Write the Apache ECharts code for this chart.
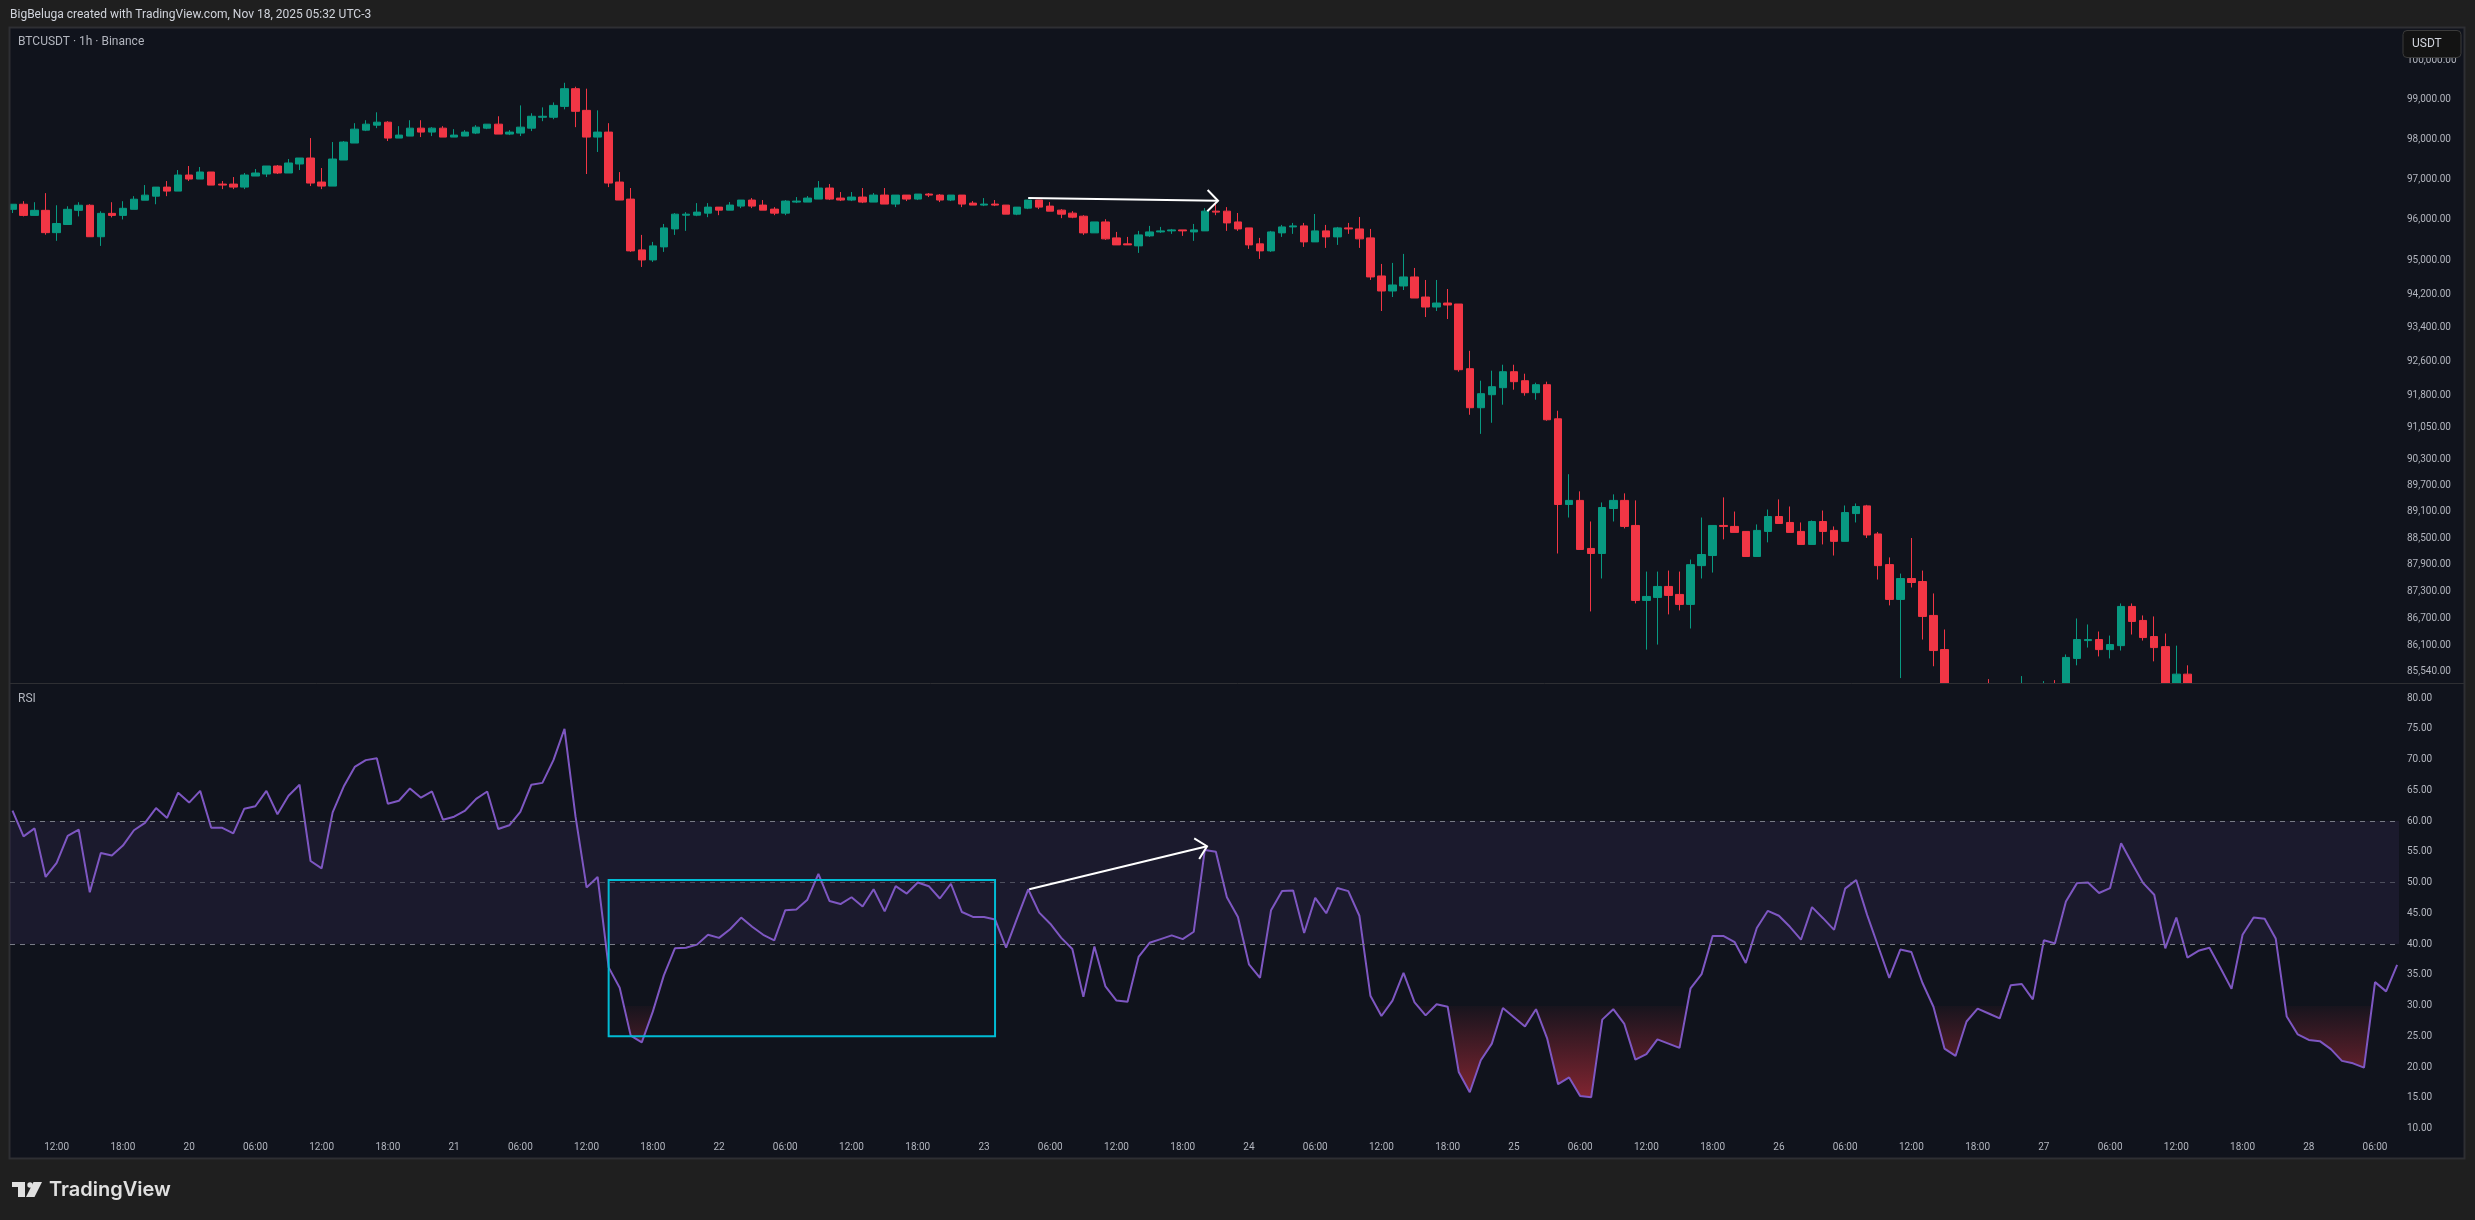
<!DOCTYPE html>
<html>
<head>
<meta charset="utf-8">
<title>BTCUSDT RSI</title>
<script src="https://cdn.jsdelivr.net/npm/echarts@6/dist/echarts.min.js"></script>
<style>
  html, body { margin: 0; padding: 0; background: #1f1f1f; }
  #chart { width: 2475px; height: 1220px; }
</style>
</head>
<body>
<div id="chart"></div>
<script>
// candles, hourly, index 0 = Nov 19 08:00. bars from 198 on are below the price pane
var opens = [
  96261,96386,96112,96236,95689,95888,96236,96361,95589,96162,
  96112,96261,96485,96585,96809,96710,97108,97008,97183,96884,
  96884,96809,97083,97133,97332,97158,97382,97531,96934,96834,
  97481,97905,98228,98353,98428,98029,98079,98278,98179,98278,
  98054,98079,98154,98278,98378,98129,98154,98278,98552,98552,
  98826,99274,98726,98054,98179,96934,96513,95268,95024,95341,
  95780,96117,96117,96167,96315,96241,96340,96489,96365,96266,
  96167,96439,96439,96513,96786,96538,96489,96563,96439,96612,
  96390,96612,96513,96637,96612,96489,96612,96414,96365,96390,
  96365,96142,96290,96489,96340,96241,96167,96092,95683,95951,
  95561,95415,95366,95610,95707,95732,95756,95707,95732,96216,
  96216,95951,95805,95415,95244,95683,95829,95854,95463,95732,
  95585,95805,95780,95561,94636,94273,94394,94612,94128,93888,
  93984,93960,92420,91503,91808,91973,92349,92137,91855,92043,
  91245,89269,89362,88272,88158,89177,89362,88792,87108,87174,
  87419,87241,87019,87885,88112,88792,88770,88657,88090,88657,
  88995,88860,88657,88363,88882,88680,88432,89062,89237,88599,
  87908,87130,87596,87529,86774,86021,85120,84700,84550,84800,
  84600,84700,84500,84900,84850,85000,84900,85826,86218,86241,
  86020,86107,86974,86663,86307,86085,85100,85482
];
var closes = [
  96386,96112,96236,95689,95913,96261,96361,95589,96162,96112,
  96286,96510,96610,96809,96710,97108,97008,97183,96859,96859,
  96809,97108,97158,97332,97158,97407,97531,96909,96834,97506,
  97930,98253,98378,98428,98029,98104,98278,98179,98278,98054,
  98104,98179,98303,98378,98129,98179,98303,98577,98577,98851,
  99274,98702,98054,98179,96909,96489,95244,95024,95366,95805,
  96142,96142,96192,96315,96241,96365,96489,96340,96241,96167,
  96464,96464,96538,96786,96513,96489,96563,96439,96612,96390,
  96612,96513,96637,96612,96489,96612,96390,96365,96390,96365,
  96142,96315,96489,96315,96216,96142,96068,95683,95951,95537,
  95390,95390,95634,95707,95732,95756,95732,95756,96216,96192,
  95927,95780,95390,95244,95707,95829,95854,95463,95732,95585,
  95805,95780,95537,94612,94273,94418,94612,94104,93888,93984,
  93936,92396,91503,91832,91996,92349,92114,91855,92043,91222,
  89269,89362,88249,88158,89200,89362,88770,87108,87196,87419,
  87219,87019,87907,88135,88792,88770,88635,88090,88680,88995,
  88837,88635,88363,88882,88657,88432,89085,89223,88576,87885,
  87130,87596,87507,86752,85999,85120,84700,84550,84800,84600,
  84700,84500,84900,84850,85000,84900,85848,86241,86241,86020,
  86130,86974,86641,86285,86064,85100,85482,84900
];
var lows = [
  96170,96087,96112,95639,95489,95888,96087,95589,95365,96062,
  96012,96261,96485,96386,96585,96710,96959,97008,96859,96759,
  96759,96759,97083,97058,97133,97158,97232,96834,96759,96834,
  97481,97905,98204,98278,97955,98029,98079,98054,98079,98054,
  98054,98079,98129,98253,98129,98104,98079,98204,98453,98502,
  98751,98303,97133,97681,96809,96489,95220,94854,94976,95220,
  95634,95732,96092,96068,96117,96241,96290,96290,96241,96117,
  96117,96414,96439,96513,96489,96464,96464,96414,96439,96390,
  96315,96464,96489,96563,96439,96464,96315,96365,96340,96340,
  96142,96117,96266,96266,96216,96043,96043,95634,95683,95512,
  95390,95390,95195,95585,95683,95659,95610,95488,95732,96117,
  95732,95732,95293,95049,95220,95585,95659,95341,95463,95317,
  95390,95659,95317,94539,93792,94128,94297,94104,93648,93792,
  93600,92349,91339,90894,91152,91574,91926,91785,91691,91199,
  88158,88972,88249,86863,87597,88882,88725,87041,86020,86130,
  86797,86886,86485,87597,87730,88477,88635,88090,88090,88409,
  88837,88635,88363,88363,88363,88112,88432,88860,88508,87574,
  86997,85396,87396,86241,85655,84950,84500,84300,84200,84400,
  84300,84200,84350,84600,84700,84700,84800,85675,86064,85870,
  85826,85999,86352,86218,85762,84900,84950,84700
];
var highs = [
  96386,96461,96436,96660,96361,96336,96436,96386,96212,96436,
  96461,96585,96859,96809,96959,97232,97332,97307,97183,96959,
  97058,97158,97257,97332,97357,97506,97531,98029,97282,97930,
  97955,98403,98477,98677,98453,98328,98477,98477,98303,98328,
  98253,98228,98353,98378,98577,98228,98851,98652,98801,98926,
  99424,99324,99274,98726,98403,97181,96786,95634,95463,95902,
  96167,96192,96414,96414,96315,96439,96489,96538,96489,96315,
  96489,96563,96588,96959,96885,96687,96687,96786,96662,96786,
  96612,96612,96637,96662,96637,96612,96612,96464,96538,96489,
  96365,96315,96489,96489,96439,96266,96216,96117,95951,96018,
  95707,95585,95732,95854,95829,95780,95756,95902,96290,96439,
  96315,96171,95805,95561,95732,95878,95927,95927,96146,95878,
  95829,95927,96073,95780,94927,94952,95171,94830,94539,94539,
  94321,93960,92843,92137,92373,92514,92514,92302,92090,92114,
  91433,89962,89569,88882,89315,89500,89523,89362,87752,87752,
  87774,87752,88021,88972,88792,89431,89108,88657,88815,89154,
  89385,89223,88860,88905,89131,88770,89246,89292,89260,88644,
  88070,87707,88508,87774,87263,86463,85200,85000,85000,85374,
  85000,84950,85440,85100,85330,85352,85913,86707,86574,86418,
  86329,87040,87040,86774,86752,86374,86107,85675
];
var rsi = [
  61.7,57.5,58.8,50.9,53.2,57.6,58.6,48.4,54.8,54.4,
  56.0,58.5,59.7,62.1,60.5,64.6,63.0,64.9,58.9,58.9,
  58.0,62.0,62.4,64.9,61.1,64.1,65.9,53.5,52.3,61.4,
  65.6,68.8,69.9,70.2,62.8,63.3,65.3,63.8,64.8,60.2,
  60.7,61.7,63.6,64.8,58.7,59.3,61.5,65.9,66.2,69.9,
  75.0,60.7,49.2,50.9,36.2,32.9,25.1,24.0,29.0,34.9,
  39.3,39.4,39.9,41.5,41.0,42.4,44.3,42.8,41.5,40.6,
  45.5,45.6,47.2,51.4,47.0,46.5,47.6,46.1,48.9,45.3,
  49.4,48.2,50.0,49.4,47.4,49.8,45.2,44.4,44.4,44.0,
  39.4,44.2,48.9,45.1,43.3,41.0,39.2,31.4,39.6,33.1,
  30.8,30.6,37.9,40.2,40.8,41.4,40.8,42.0,55.3,55.0,
  47.6,44.4,36.7,34.5,45.5,48.6,48.7,41.8,47.5,45.0,
  49.1,48.6,44.6,31.6,28.3,30.8,35.3,30.5,28.4,30.2,
  29.8,19.2,15.9,21.1,23.8,29.6,28.1,26.6,29.4,24.7,
  17.2,18.3,15.3,15.1,27.7,29.4,27.0,21.2,22.1,24.5,
  23.8,23.1,32.8,35.1,41.3,41.3,40.3,36.9,42.6,45.4,
  44.6,42.8,40.7,46.0,44.2,42.3,49.0,50.4,44.7,39.6,
  34.5,39.1,38.7,33.7,29.8,23.0,21.8,27.4,29.5,28.7,
  27.9,33.3,33.5,31.0,40.6,40.1,46.9,49.9,50.0,48.3,
  49.1,56.4,53.1,49.9,48.0,39.3,44.3,37.8,38.9,39.4,
  36.1,32.7,41.5,44.3,44.1,40.9,28.2,25.3,24.4,24.2,
  22.9,21.0,20.6,19.9,33.8,32.3,36.6
];

var priceTicks = [100000,99000,98000,97000,96000,95000,94200,93400,92600,91800,91050,90300,89700,89100,88500,87900,87300,86700,86100,85540];
var rsiTicks = [80,75,70,65,60,55,50,45,40,35,30,25,20,15,10];
var timeTicks = [4,10,16,22,28,34,40,46,52,58,64,70,76,82,88,94,100,106,112,118,124,130,136,142,148,154,160,166,172,178,184,190,196,202,208,214];
var timeLabels = ['12:00','18:00','20','06:00','12:00','18:00','21','06:00','12:00','18:00','22','06:00','12:00','18:00','23','06:00','12:00','18:00','24','06:00','12:00','18:00','25','06:00','12:00','18:00','26','06:00','12:00','18:00','27','06:00','12:00','18:00','28','06:00'];

// drawings on the chart: [x0, y0, x1, y1] in bar index and axis value
var priceArrow = [92, 96540, 109.2, 96473];
var rsiArrow = [92.1, 48.9, 108.2, 55.9];
var rsiBox = [54, 50.4, 89, 25];

var FONT = 'Roboto';
var TEXT_GREY = '#b2b5be';
var OUTER_BG = '#1f1f1f';
var PANE_BG = '#10131c';
var BORDER = '#2e2f33';
var UP = '#089981';
var DOWN = '#F23645';

var RSI_MIN = 5.04, RSI_MAX = 82.28;
var rsiTop = 684, rsiHeight = 475;

function rsiPixel(v) {
  return rsiTop + (RSI_MAX - v) / (RSI_MAX - RSI_MIN) * rsiHeight;
}

// red fill under 30, nothing above it
var y30 = rsiPixel(30), y15 = rsiPixel(15);
var t30 = (y30 - rsiTop) / (y15 - rsiTop);
var oversoldFill = new echarts.graphic.LinearGradient(0, rsiTop, 0, y15, [
  { offset: 0, color: 'rgba(242,54,69,0)' },
  { offset: t30, color: 'rgba(242,54,69,0)' },
  { offset: t30, color: 'rgba(242,54,69,0.03)' },
  { offset: 1, color: 'rgba(242,54,69,0.5)' }
], true);

function renderArrow(params, api) {
  var a = api.coord([api.value(0), api.value(1)]);
  var b = api.coord([api.value(2), api.value(3)]);
  var ang = Math.atan2(b[1] - a[1], b[0] - a[0]);
  var len = 15;
  var h1 = [b[0] + len * Math.cos(ang + Math.PI * 0.75), b[1] + len * Math.sin(ang + Math.PI * 0.75)];
  var h2 = [b[0] + len * Math.cos(ang - Math.PI * 0.75), b[1] + len * Math.sin(ang - Math.PI * 0.75)];
  var st = { stroke: '#ffffff', lineWidth: 2, fill: null };
  return {
    type: 'group',
    children: [
      { type: 'line', shape: { x1: a[0], y1: a[1], x2: b[0], y2: b[1] }, style: st },
      { type: 'polyline', shape: { points: [h1, b, h2] }, style: st }
    ]
  };
}

function formatPrice(v) {
  return Number(v).toLocaleString('en-US', { minimumFractionDigits: 2, maximumFractionDigits: 2 });
}

var X_MIN = -0.226, X_MAX = 216.17;
var candleData = opens.map(function (o, i) { return [i, o, closes[i], lows[i], highs[i]]; });
var rsiData = rsi.map(function (v, i) { return [i, v]; });

var option = {
  animation: false,
  backgroundColor: OUTER_BG,
  textStyle: { fontFamily: FONT },
  grid: [
    { left: 10, top: 28, width: 2389, height: 655 },
    { left: 10, top: rsiTop, width: 2389, height: rsiHeight }
  ],
  xAxis: [
    {
      type: 'value', gridIndex: 0, min: X_MIN, max: X_MAX,
      axisLine: { show: false }, axisTick: { show: false }, splitLine: { show: false },
      axisLabel: { show: false }
    },
    {
      type: 'value', gridIndex: 1, min: X_MIN, max: X_MAX, z: 6,
      axisLine: { show: false }, axisTick: { show: false }, splitLine: { show: false },
      axisLabel: {
        inside: true, margin: 6.5, color: TEXT_GREY, fontSize: 10, fontFamily: FONT,
        customValues: timeTicks,
        formatter: function (v) { return timeLabels[timeTicks.indexOf(v)]; }
      }
    }
  ],
  yAxis: [
    {
      type: 'log', gridIndex: 0, position: 'right', min: 85289, max: 100825, z: 6,
      axisLine: { show: false }, axisTick: { show: false }, splitLine: { show: false },
      axisLabel: {
        margin: 8, color: TEXT_GREY, fontSize: 10, fontFamily: FONT,
        customValues: priceTicks, formatter: formatPrice
      }
    },
    {
      type: 'value', gridIndex: 1, position: 'right', min: RSI_MIN, max: RSI_MAX, z: 6,
      axisLine: { show: false }, axisTick: { show: false }, splitLine: { show: false },
      axisLabel: {
        margin: 8, color: TEXT_GREY, fontSize: 10, fontFamily: FONT,
        customValues: rsiTicks, formatter: function (v) { return Number(v).toFixed(2); }
      }
    }
  ],
  series: [
    {
      name: 'BTCUSDT', type: 'candlestick', xAxisIndex: 0, yAxisIndex: 0, z: 1,
      barWidth: 8, data: candleData,
      itemStyle: { color: UP, color0: DOWN, borderColor: UP, borderColor0: DOWN, borderWidth: 1 }
    },
    {
      name: 'RSI', type: 'line', xAxisIndex: 1, yAxisIndex: 1, data: rsiData,
      symbol: 'none', z: 3,
      lineStyle: { color: '#7e57c2', width: 2 },
      areaStyle: { origin: 30, color: oversoldFill, opacity: 1 },
      markArea: {
        silent: true, z: 2.5,
        itemStyle: { color: 'rgba(126,87,194,0.1)' },
        data: [[{ yAxis: 40 }, { yAxis: 60 }]]
      },
      markLine: {
        silent: true, symbol: 'none', label: { show: false },
        lineStyle: { color: '#787b86', type: [5, 5], width: 1 },
        data: [
          { yAxis: 60 },
          { yAxis: 50, lineStyle: { color: 'rgba(120,123,134,0.55)' } },
          { yAxis: 40 }
        ]
      }
    },
    {
      name: 'box', type: 'line', xAxisIndex: 1, yAxisIndex: 1, data: [], z: 4,
      markArea: {
        silent: true, z: 4,
        itemStyle: { color: 'rgba(0,0,0,0)', borderColor: '#00bcd4', borderWidth: 2 },
        data: [[{ xAxis: rsiBox[0], yAxis: rsiBox[1] }, { xAxis: rsiBox[2], yAxis: rsiBox[3] }]]
      }
    },
    {
      name: 'priceArrow', type: 'custom', xAxisIndex: 0, yAxisIndex: 0, z: 5,
      renderItem: renderArrow, encode: { x: [0, 2], y: [1, 3] }, data: [priceArrow]
    },
    {
      name: 'rsiArrow', type: 'custom', xAxisIndex: 1, yAxisIndex: 1, z: 5,
      renderItem: renderArrow, encode: { x: [0, 2], y: [1, 3] }, data: [rsiArrow]
    }
  ],
  graphic: {
    elements: [
      // pane background, candles draw on top of it
      { type: 'rect', z: -1, shape: { x: 9.5, y: 27.5, width: 2455, height: 1131 }, style: { fill: PANE_BG } },
      // candlestick series does not cut its bars at the grid edge, so cover what spills over
      { type: 'rect', z: 2, shape: { x: 10, y: 684, width: 2454, height: 474 }, style: { fill: PANE_BG } },
      { type: 'rect', z: 2, shape: { x: 0, y: 28, width: 9, height: 656 }, style: { fill: OUTER_BG } },
      { type: 'rect', z: 2.1, shape: { x: 9.5, y: 27.5, width: 2455, height: 1131 }, style: { fill: null, stroke: BORDER, lineWidth: 2 } },
      { type: 'line', z: 2.1, shape: { x1: 10, y1: 683.5, x2: 2465, y2: 683.5 }, style: { stroke: BORDER, lineWidth: 1 } },
      // header text
      { type: 'text', z: 20, x: 10, y: 15, style: { text: 'BigBeluga created with TradingView.com, Nov 18, 2025 05:32 UTC-3', fill: '#d1d4dc', font: '12px ' + FONT, verticalAlign: 'middle' } },
      { type: 'text', z: 20, x: 18, y: 42, style: { text: 'BTCUSDT · 1h · Binance', fill: TEXT_GREY, font: '12px ' + FONT, verticalAlign: 'middle' } },
      { type: 'text', z: 20, x: 18, y: 699, style: { text: 'RSI', fill: TEXT_GREY, font: '12px ' + FONT, verticalAlign: 'middle' } },
      // currency box covers the top of the 100,000 label
      { type: 'rect', z: 30, shape: { x: 2403, y: 30.5, width: 58, height: 27, r: 4 }, style: { fill: '#131313', stroke: '#3a3a3a', lineWidth: 1 } },
      { type: 'text', z: 31, x: 2412, y: 44, style: { text: 'USDT', fill: '#d1d4dc', font: '12px ' + FONT, verticalAlign: 'middle' } },
      // logo
      { type: 'polygon', z: 20, shape: { points: [[12, 1182], [25, 1182], [25, 1197], [18, 1197], [18, 1187], [12, 1187]] }, style: { fill: '#e0e0e0' } },
      { type: 'circle', z: 20, shape: { cx: 30, cy: 1185, r: 2.7 }, style: { fill: '#e0e0e0' } },
      { type: 'polygon', z: 20, shape: { points: [[33.5, 1182], [42, 1182], [34.5, 1197], [26, 1197]] }, style: { fill: '#e0e0e0' } },
      { type: 'text', z: 20, x: 49, y: 1190, style: { text: 'TradingView', fill: '#e0e0e0', font: '600 20px Inter', verticalAlign: 'middle' } }
    ]
  }
};

var chart = echarts.init(document.getElementById('chart'), null, { renderer: 'canvas', width: 2475, height: 1220 });
chart.setOption(option);
</script>
</body>
</html>
